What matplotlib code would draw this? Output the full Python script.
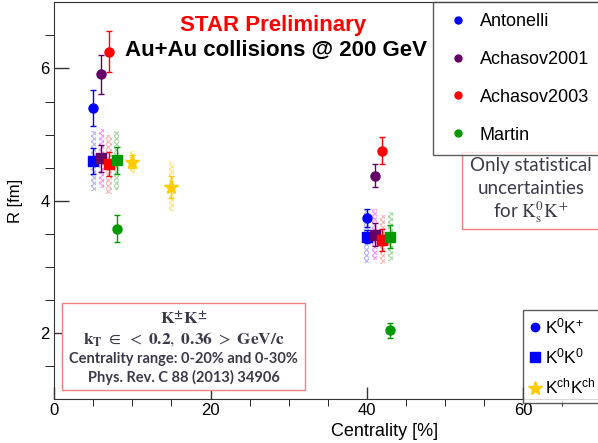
import matplotlib
matplotlib.use('Agg')
import matplotlib.pyplot as plt
from matplotlib.patches import Rectangle
from matplotlib.lines import Line2D
import numpy as np

plt.rcParams['font.family'] = ['Liberation Sans', 'DejaVu Sans']
plt.rcParams['mathtext.fontset'] = 'custom'
plt.rcParams['mathtext.rm'] = 'Liberation Sans'
plt.rcParams['mathtext.it'] = 'Liberation Sans:italic'
plt.rcParams['mathtext.bf'] = 'Liberation Sans:bold'
plt.rcParams['hatch.linewidth'] = 0.8

# models for K0K+ / K0K0
models = ['Antonelli', 'Achasov2001', 'Achasov2003', 'Martin']
colors = ['#0000ff', '#660066', '#ff0000', '#009900']
sys_colors = ['#7070ff', '#ff33ff', '#ff7070', '#55bb55']

# centrality of each point (one row per model: 0-10% bin, 40-50% bin)
cent = [[5, 40], [6, 41], [7, 42], [8, 43]]

# K0 K+ (circles), stat only
k0kp_R = [[5.40, 3.74], [5.91, 4.38], [6.25, 4.76], [3.58, 2.04]]
k0kp_stat = [[0.27, 0.14], [0.30, 0.17], [0.31, 0.20], [0.21, 0.11]]

# K0 K0 (squares), stat + sys
k0k0_R = [[4.60, 3.46], [4.64, 3.49], [4.55, 3.41], [4.61, 3.46]]
k0k0_stat = [[0.20, 0.10], [0.20, 0.17], [0.18, 0.17], [0.20, 0.17]]
k0k0_sys = [[0.45, 0.40], [0.45, 0.38], [0.45, 0.37], [0.45, 0.37]]

# K+-K+- (stars), PRC 88 (2013) 34906
kch_cent = [10, 15]
kch_R = [4.59, 4.21]
kch_stat = [0.10, 0.17]
kch_sys = [0.17, 0.37]
kch_color = '#ffcc00'

fig = plt.figure(figsize=(5.98, 4.43), dpi=100)
W, H = 598.0, 443.0
ax = fig.add_axes([54.3 / W, 1 - 399.3 / H, 70 * 7.81 / W, (399.3 - 2.3) / H])

bw = 0.65
for i in range(4):
    x = np.array(cent[i])
    ax.bar(x, 2 * np.array(k0k0_sys[i]), bottom=np.array(k0k0_R[i]) - np.array(k0k0_sys[i]),
           width=bw, color='none', edgecolor=sys_colors[i], hatch='xxxxxx', linewidth=0,
           alpha=0.55, zorder=1)
ax.bar(kch_cent, 2 * np.array(kch_sys), bottom=np.array(kch_R) - np.array(kch_sys),
       width=bw, color='none', edgecolor=kch_color, hatch='xxxxxx', linewidth=0,
       alpha=0.55, zorder=1)

for i in range(4):
    ax.errorbar(cent[i], k0kp_R[i], yerr=k0kp_stat[i], fmt='o', color=colors[i],
                ms=6.5, capsize=2.2, elinewidth=1, capthick=1, zorder=3)
    ax.errorbar(cent[i], k0k0_R[i], yerr=k0k0_stat[i], fmt='s', color=colors[i],
                ms=7, capsize=2.2, elinewidth=1, capthick=1, zorder=4)
ax.errorbar(kch_cent, kch_R, yerr=kch_stat, fmt='*', color=kch_color, ms=11,
            capsize=2.2, elinewidth=1, capthick=1, zorder=4)

ax.set_xlim(0, 70)
ax.set_ylim(1, 7)
ax.set_xticks([0, 20, 40, 60])
ax.set_xticks(np.arange(0, 70, 5), minor=True)
ax.set_yticks([2, 4, 6])
ax.set_yticks(np.arange(1.5, 7, 0.5), minor=True)
ax.tick_params(axis='both', direction='in', labelsize=12, width=1, color='#333333')
ax.tick_params(axis='y', which='major', length=11)
ax.tick_params(axis='y', which='minor', length=6.5)
ax.tick_params(axis='x', which='major', length=9)
ax.tick_params(axis='x', which='minor', length=5)
ax.tick_params(axis='x', pad=3)
for s in ax.spines.values():
    s.set_color('#333333')
ax.set_xlabel('Centrality [%]', fontsize=13)
ax.set_ylabel('R [fm]', fontsize=12, labelpad=12)
ax.xaxis.label.set_va('center')
ax.xaxis.set_label_coords(330 / (70 * 7.81), -(431.5 - 399.3) / (399.3 - 2.3))

fig.text(273 / W, 1 - 26 / H, 'STAR Preliminary', color='#ff0000', fontsize=16,
         fontweight='bold', ha='center', va='center')
fig.text(276 / W, 1 - 50 / H, 'Au+Au collisions @ 200 GeV', color='black', fontsize=16,
         fontweight='bold', ha='center', va='center')

# model legend
h1 = [Line2D([], [], marker='o', ls='none', color=c, ms=5) for c in colors]
leg1 = fig.legend(h1, models, loc='upper left', bbox_to_anchor=(433 / W, 1 - 1.5 / H),
                  borderaxespad=0, fontsize=13, frameon=True, fancybox=False,
                  borderpad=0.65, labelspacing=1.15, handlelength=1.5, handletextpad=0.45)
leg1.get_frame().set_edgecolor('#333333')
leg1.get_frame().set_linewidth(1)

# particle legend
h2 = [Line2D([], [], marker='o', ls='none', color='#0000ff', ms=6),
      Line2D([], [], marker='s', ls='none', color='#0000ff', ms=6.5),
      Line2D([], [], marker='*', ls='none', color=kch_color, ms=10)]
lab2 = ['K$^{0}$K$^{+}$', 'K$^{0}$K$^{0}$', 'K$^{\\rm ch}$K$^{\\rm ch}$']
leg2 = fig.legend(h2, lab2, loc='upper left', bbox_to_anchor=(523.3 / W, 1 - 310 / H),
                  borderaxespad=0, fontsize=12.5, frameon=True, fancybox=False,
                  borderpad=0.35, labelspacing=0.6, handlelength=0.7, handletextpad=0.2)
leg2.get_frame().set_edgecolor('#333333')
leg2.get_frame().set_linewidth(1)

pink = '#f08080'
grey = '#3a3a4a'
# statistical uncertainty note
fig.add_artist(Rectangle((462 / W, 1 - 229 / H), (600 - 462) / W, (229 - 152) / H,
                         transform=fig.transFigure, facecolor='white', edgecolor=pink, lw=1))
note_font = ['Lato', 'DejaVu Sans']
fig.text(531 / W, 1 - 165 / H, 'Only statistical', family=note_font, fontsize=13.5,
         color=grey, ha='center', va='center')
fig.text(531 / W, 1 - 189 / H, 'uncertainties', family=note_font, fontsize=13.5,
         color=grey, ha='center', va='center')
fig.text(531 / W, 1 - 212 / H, 'for $\\mathrm{K_s^0K^+}$', family=note_font, fontsize=13.5,
         color=grey, ha='center', va='center', math_fontfamily='stix')

# K+-K+- info box
fig.add_artist(Rectangle((62.3 / W, 1 - 390 / H), (305 - 62.3) / W, (390 - 303.3) / H,
                         transform=fig.transFigure, facecolor='white', edgecolor=pink, lw=1))
cx = 183.7 / W
fig.text(cx, 1 - 319.3 / H, '$\\mathbf{K^{\\pm}K^{\\pm}}$', fontsize=12.5, color=grey,
         ha='center', va='center', math_fontfamily='stix')
fig.text(cx, 1 - 339.3 / H,
         '$\\mathbf{k_T}\\ \\in\\ <\\ \\mathbf{0.2},\\ \\mathbf{0.36}\\ >\\ \\mathbf{GeV/c}$',
         fontsize=12.5, color=grey, ha='center', va='center', math_fontfamily='stix')
fig.text(cx, 1 - 359.3 / H, 'Centrality range: 0-20% and 0-30%', family=note_font,
         fontweight='bold', fontsize=10.5, color=grey, ha='center', va='center')
fig.text(cx, 1 - 377.3 / H, 'Phys. Rev. C 88 (2013) 34906', family=note_font,
         fontweight='bold', fontsize=10.5, color=grey, ha='center', va='center')

fig.savefig('out.png', dpi=100)
